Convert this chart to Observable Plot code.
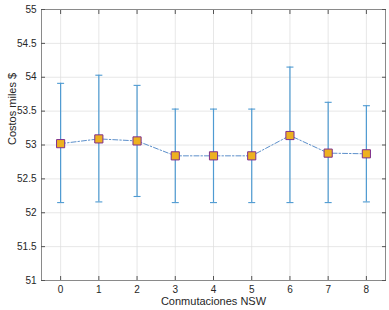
<!DOCTYPE html>
<html>
<head>
<meta charset="utf-8">
<script src="https://cdn.jsdelivr.net/npm/d3@7"></script>
<script src="https://cdn.jsdelivr.net/npm/@observablehq/plot@0.6"></script>
<style>
  html, body { margin: 0; padding: 0; background: #fff; }
  #chart svg { display: block; }
</style>
</head>
<body>
<div id="chart"></div>
<script>
const commutations = [0, 1, 2, 3, 4, 5, 6, 7, 8];
const meanCost = [53.02, 53.09, 53.06, 52.84, 52.84, 52.84, 53.14, 52.88, 52.87];
const upperCost = [53.91, 54.03, 53.88, 53.53, 53.53, 53.53, 54.15, 53.63, 53.58];
const lowerCost = [52.15, 52.16, 52.24, 52.15, 52.15, 52.15, 52.15, 52.15, 52.16];
const xTicks = [0, 1, 2, 3, 4, 5, 6, 7, 8];
const yTicks = [51, 51.5, 52, 52.5, 53, 53.5, 54, 54.5, 55];

const data = commutations.map((x, i) => ({x, y: meanCost[i], hi: upperCost[i], lo: lowerCost[i]}));

const capSymbol = {
  draw(context, size) {
    context.moveTo(-3.5, 0);
    context.lineTo(3.5, 0);
  }
};

const font = "'Liberation Sans', Arial, Helvetica, sans-serif";
const axisColor = "#262626";
const errColor = "#4f9bd2";

const chart = Plot.plot({
  width: 389,
  height: 310,
  marginLeft: 41,
  marginRight: 4,
  marginTop: 9,
  marginBottom: 30,
  style: {fontFamily: font, fontSize: "10px", color: axisColor, background: "#fff"},
  x: {type: "linear", domain: [-0.5, 8.5]},
  y: {type: "linear", domain: [51, 55]},
  marks: [
    Plot.gridX(xTicks, {stroke: "#dcdcdc", strokeOpacity: 1, strokeWidth: 0.7}),
    Plot.gridY(yTicks, {stroke: "#dcdcdc", strokeOpacity: 1, strokeWidth: 0.7}),
    Plot.frame({stroke: "#8a8a8a", strokeWidth: 1}),
    // tick labels
    Plot.axisX({ticks: xTicks, tickSize: 0, tickPadding: 5, tickFormat: d => String(d), label: null, fontSize: 10, fill: axisColor}),
    Plot.axisY({ticks: yTicks, tickSize: 0, tickPadding: 5, tickFormat: d => String(d), label: null, fontSize: 10, fill: axisColor}),
    // inward tick marks
    Plot.axisX({ticks: xTicks, anchor: "bottom", tickSize: -4, tickFormat: () => "", label: null, stroke: "#555"}),
    Plot.axisX({ticks: xTicks, anchor: "top", tickSize: -4, tickFormat: () => "", label: null, stroke: "#555"}),
    Plot.axisY({ticks: yTicks, anchor: "left", tickSize: -4, tickFormat: () => "", label: null, stroke: "#555"}),
    Plot.axisY({ticks: yTicks, anchor: "right", tickSize: -4, tickFormat: () => "", label: null, stroke: "#555"}),
    // axis titles
    Plot.text(["Conmutaciones NSW"], {frameAnchor: "bottom", dy: 24, fontSize: 11, fill: axisColor, fontFamily: font}),
    Plot.text(["Costos miles $"], {frameAnchor: "left", dx: -29, rotate: -90, fontSize: 11, fill: axisColor, fontFamily: font}),
    // error bars
    Plot.ruleX(data, {x: "x", y1: "lo", y2: "hi", stroke: errColor, strokeWidth: 1.2}),
    Plot.dot(data, {x: "x", y: "hi", symbol: capSymbol, stroke: errColor, strokeWidth: 1.1, fill: "none", r: 3}),
    Plot.dot(data, {x: "x", y: "lo", symbol: capSymbol, stroke: errColor, strokeWidth: 1.1, fill: "none", r: 3}),
    // dash-dot line
    Plot.line(data, {x: "x", y: "y", stroke: "#4a82c4", strokeWidth: 0.9, strokeDasharray: "5,2,1.5,2"}),
    // markers
    Plot.dot(data, {x: "x", y: "y", symbol: "square", r: 4.6, fill: "#EDB120", stroke: "#7E2F8E", strokeWidth: 1})
  ]
});

document.getElementById("chart").appendChild(chart);
</script>
</body>
</html>
